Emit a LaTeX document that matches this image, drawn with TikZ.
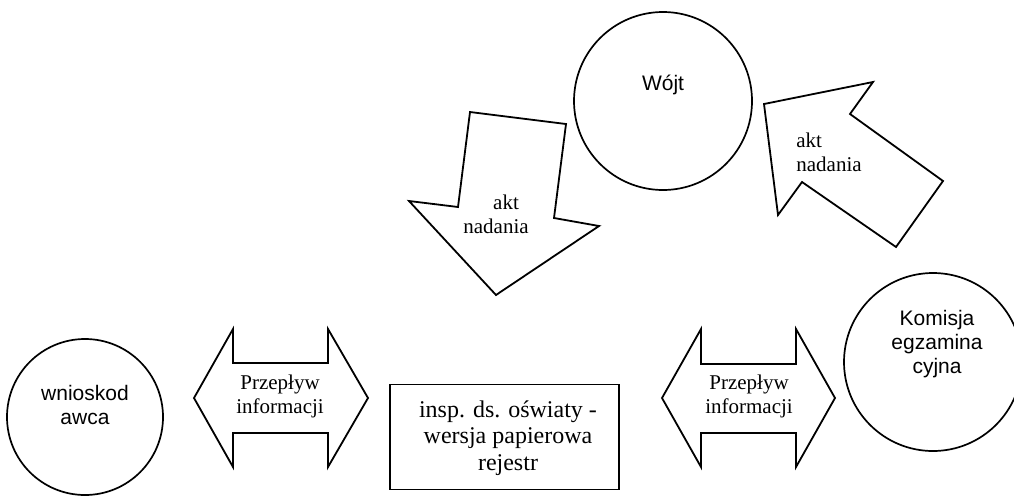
\documentclass[tikz,border=0pt]{standalone}
\usepackage{fontspec}
\setmainfont{Liberation Serif}
\newfontfamily\arialfont{Liberation Sans}
\begin{document}
\begin{tikzpicture}[x=1pt,y=-1pt,
  outline/.style={draw=black,line width=1.8pt,line join=miter,fill=white},
  bubble/.style={circle,draw=black,line width=1.7pt,inner sep=0pt},
  sanslabel/.style={font=\arialfont\fontsize{21}{24}\selectfont,align=center,inner sep=0pt},
  seriflabel/.style={font=\fontsize{21}{24}\selectfont,align=center,inner sep=0pt},
  boxlabel/.style={font=\fontsize{24}{26.5}\selectfont,align=center,inner sep=0pt}]
\useasboundingbox (0,0) rectangle (1014,498);
\clip (0,0) rectangle (1014,498);

% circles
\node[bubble,minimum size=178pt] (wojt) at (663,101) {};
\node[sanslabel] (wojtlabel) at (663,85) {Wójt};

\node[bubble,minimum size=156pt] (wnioskodawca) at (85,417) {};
\node[sanslabel] (wnioskodawcalabel) at (85,405) {wnioskod\\awca};

\node[bubble,minimum size=178pt] (komisja) at (933,362) {};
\node[sanslabel] (komisjalabel) at (937,344) {Komisja\\egzamina\\cyjna};

% block arrow pointing down towards the register
\draw[outline] (470,112) -- (566,124) -- (554,218) -- (599,226) -- (496,295)
  -- (409,201) -- (458,207) -- cycle;
\node[seriflabel] (aktdown) at (496,214) {\hspace*{20pt}akt\\nadania};

% block arrow pointing up-left towards the Wójt
\draw[outline] (764,104) -- (873,82) -- (850,114) -- (943,181) -- (896,247)
  -- (802,182) -- (778,215) -- cycle;
\node[seriflabel,align=left] (aktup) at (829,152) {akt\\nadania};

% double-headed flow arrows
\draw[outline] (194,398) -- (233,329) -- (233,363) -- (328,363) -- (328,329)
  -- (368,398) -- (328,467) -- (328,433) -- (233,433) -- (233,467) -- cycle;
\node[seriflabel] (flowleft) at (280,396) {Przepływ\\informacji};

\draw[outline] (662,398) -- (701,329) -- (701,364) -- (796,364) -- (796,329)
  -- (835,398) -- (796,467) -- (796,433) -- (701,433) -- (701,467) -- cycle;
\node[seriflabel] (flowright) at (749,396) {Przepływ\\informacji};

% register box
\node[draw=black,line width=1.8pt,minimum width=229pt,minimum height=105pt,inner sep=0pt]
  (insp) at (504.5,437) {};
\node[boxlabel] (insplabel) at (508,438) {insp. ds. oświaty -\\wersja papierowa\\rejestr};
\end{tikzpicture}
\end{document}
